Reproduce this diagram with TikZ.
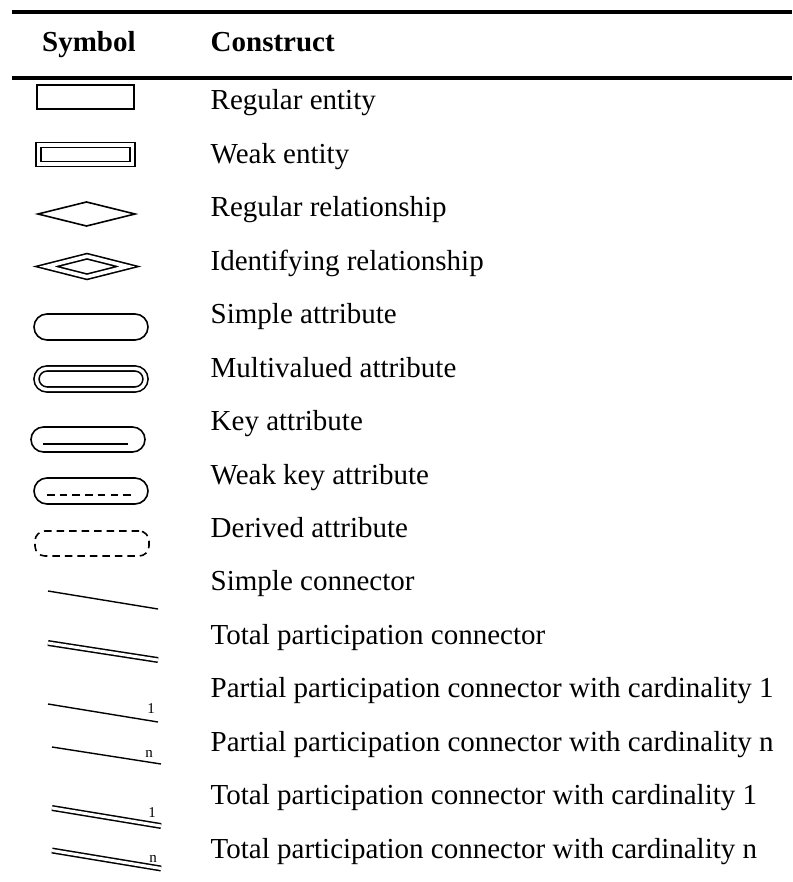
\documentclass[tikz,border=0pt]{standalone}
\usepackage{fontspec}
\setmainfont{Liberation Serif}
\usetikzlibrary{shapes.geometric}
\begin{document}
\begin{tikzpicture}[x=1pt,y=-1pt,
  rule/.style={line width=4pt},
  head/.style={anchor=base west, inner sep=0pt, font=\fontsize{29}{34}\selectfont\bfseries},
  txt/.style={anchor=base west, inner sep=0pt, font=\fontsize{29}{34}\selectfont},
  card/.style={anchor=south, inner sep=0pt, font=\fontsize{15}{18}\selectfont},
  sym/.style={draw, line width=1.6pt, inner sep=0pt, outer sep=0pt},
  dbl/.style={double, double distance=3.4pt},
  entity/.style={sym, rectangle, minimum width=97pt, minimum height=24pt},
  weakentity/.style={sym, dbl, rectangle, minimum width=94pt, minimum height=19pt},
  rel/.style={sym, diamond, minimum width=97pt, minimum height=24pt},
  idrel/.style={sym, diamond, double, double distance=3.6pt, minimum width=81pt, minimum height=20.5pt},
  attr/.style={sym, rectangle, rounded corners=13pt, minimum width=114pt, minimum height=26pt},
  multiattr/.style={sym, dbl, rectangle, rounded corners=10.5pt, minimum width=109pt, minimum height=21pt},
  derived/.style={attr, rounded corners=10pt, dash pattern=on 7.5pt off 5pt},
  keyline/.style={line width=1.6pt},
  weakkeyline/.style={line width=1.6pt, dash pattern=on 7.5pt off 5.2pt},
  conn/.style={line width=1.4pt},
  totalconn/.style={line width=1.5pt, double, double distance=3pt}
]
\useasboundingbox (0,0) rectangle (792,882);

% table rules
\coordinate (r1a) at (12,12);  \coordinate (r1b) at (792,12);
\coordinate (r2a) at (12,78);  \coordinate (r2b) at (792,78);
\draw[rule] (r1a) -- (r1b);
\draw[rule] (r2a) -- (r2b);

% header
\node[head] (hsym) at (42,51.5) {Symbol};
\node[head] (hcon) at (210.5,51.5) {Construct};

% construct names
\node[txt] (t1)  at (210.5,110.0) {Regular entity};
\node[txt] (t2)  at (210.5,163.4) {Weak entity};
\node[txt] (t3)  at (210.5,216.9) {Regular relationship};
\node[txt] (t4)  at (210.5,270.3) {Identifying relationship};
\node[txt] (t5)  at (210.5,323.7) {Simple attribute};
\node[txt] (t6)  at (210.5,377.2) {Multivalued attribute};
\node[txt] (t7)  at (210.5,430.6) {Key attribute};
\node[txt] (t8)  at (210.5,484.0) {Weak key attribute};
\node[txt] (t9)  at (210.5,537.4) {Derived attribute};
\node[txt] (t10) at (210.5,590.9) {Simple connector};
\node[txt] (t11) at (210.5,644.3) {Total participation connector};
\node[txt] (t12) at (210.5,697.7) {Partial participation connector with cardinality 1};
\node[txt] (t13) at (210.5,751.2) {Partial participation connector with cardinality n};
\node[txt] (t14) at (210.5,804.6) {Total participation connector with cardinality 1};
\node[txt] (t15) at (210.5,858.0) {Total participation connector with cardinality n};

% shape symbols
\node[entity]     (s1) at (85.5,97)    {};
\node[weakentity] (s2) at (85.5,154.5) {};
\node[rel]        (s3) at (86.5,214)   {};
\node[idrel]      (s4) at (87,266.5)   {};
\node[attr]       (s5) at (91,327)     {};
\node[multiattr]  (s6) at (91,379)     {};
\node[attr, minimum height=25pt, rounded corners=12.5pt] (s7) at (88,439.5) {};
\draw[keyline] ([xshift=12pt,yshift=-4.5pt]s7.west) -- ([xshift=-17pt,yshift=-4.5pt]s7.east);
\node[attr]       (s8) at (91,491)     {};
\draw[weakkeyline] ([xshift=13pt,yshift=-4pt]s8.west) -- ([xshift=-15pt,yshift=-4pt]s8.east);
\node[derived, minimum height=25pt] (s9) at (92,543.5) {};

% connector symbols
\coordinate (c10a) at (48,591);    \coordinate (c10b) at (158,609);
\draw[conn] (c10a) -- (c10b);
\coordinate (c11a) at (48,643);    \coordinate (c11b) at (158,660);
\draw[totalconn] (c11a) -- (c11b);
\coordinate (c12a) at (48,704);    \coordinate (c12b) at (158,722);
\draw[conn] (c12a) -- (c12b);
\node[card] (l12) at (151,713.5) {1};
\coordinate (c13a) at (52,747);    \coordinate (c13b) at (161,764);
\draw[conn] (c13a) -- (c13b);
\node[card] (l13) at (149,757.5) {n};
\coordinate (c14a) at (52,808);    \coordinate (c14b) at (161,826);
\draw[totalconn] (c14a) -- (c14b);
\node[card] (l14) at (152,818) {1};
\coordinate (c15a) at (52,850.5);  \coordinate (c15b) at (161,868.5);
\draw[totalconn] (c15a) -- (c15b);
\node[card] (l15) at (153,863) {n};
\end{tikzpicture}
\end{document}
